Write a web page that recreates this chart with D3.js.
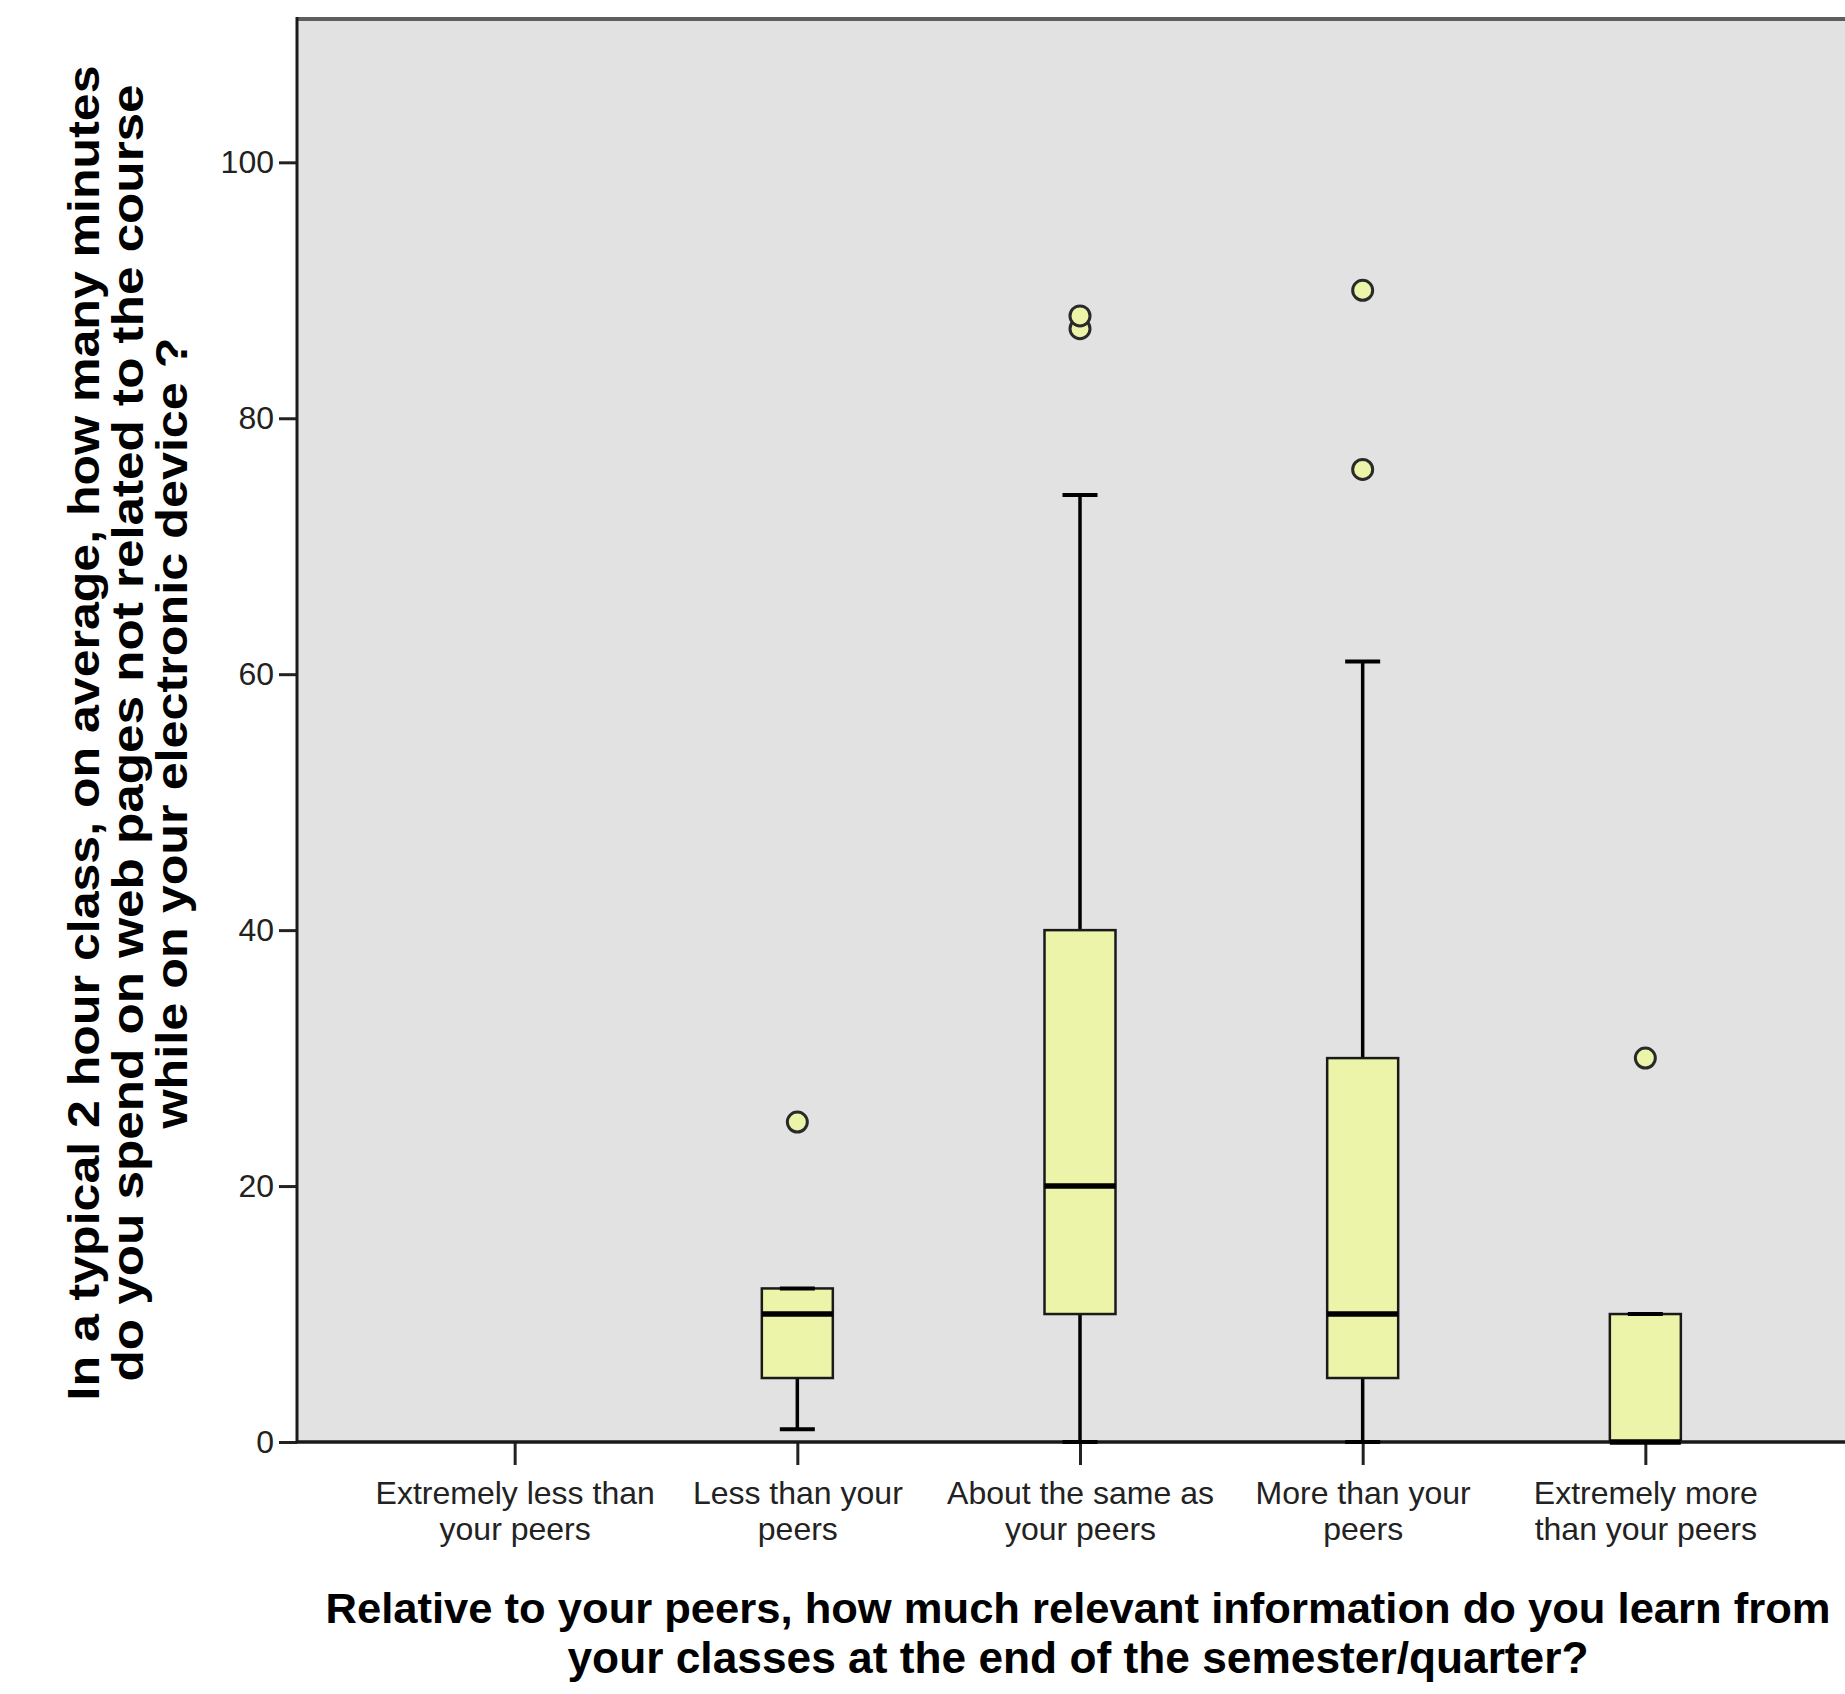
<!DOCTYPE html>
<html>
<head>
<meta charset="utf-8">
<script src="https://cdn.jsdelivr.net/npm/d3@7"></script>
<style>
  html, body { margin: 0; padding: 0; background: #ffffff; }
  svg { display: block; }
</style>
</head>
<body>
<div id="chart"></div>
<script>
// ---------------- DATA ----------------
const categories = [
  "Extremely less than your peers",
  "Less than your peers",
  "About the same as your peers",
  "More than your peers",
  "Extremely more than your peers"
];
const categoryLabelLines = [
  ["Extremely less than", "your peers"],
  ["Less than your", "peers"],
  ["About the same as", "your peers"],
  ["More than your", "peers"],
  ["Extremely more", "than your peers"]
];
const whiskerLow  = [null, 1, 0, 0, 0];
const q1          = [null, 5, 10, 5, 0];
const medians     = [null, 10, 20, 10, 0];
const q3          = [null, 12, 40, 30, 10];
const whiskerHigh = [null, 12, 74, 61, 10];
const outliers    = [[], [25], [87, 88], [76, 90], [30]];
const yTicks = [0, 20, 40, 60, 80, 100];
const yTitleLines = [
  "In a typical 2 hour class, on average, how many minutes",
  "do you spend on web pages not related to the course",
  "while on your electronic device ?"
];
const xTitleLines = [
  "Relative to your peers, how much relevant information do you learn from",
  "your classes at the end of the semester/quarter?"
];

// ---------------- LAYOUT ----------------
const W = 1845, H = 1694;
const plot = { left: 297, top: 19, right: 1863, bottom: 1442 };
const boxW = 71, capW = 35;
const boxFill = "#ebf4a8";

const svg = d3.select("#chart").append("svg")
  .attr("width", W).attr("height", H)
  .attr("viewBox", `0 0 ${W} ${H}`);

const y = d3.scaleLinear().domain([0, 111.2]).range([plot.bottom, plot.top]);
const x = d3.scalePoint().domain(categories).range([plot.left, plot.right]).padding(0.77);

// plot background
svg.append("rect")
  .attr("x", plot.left).attr("y", plot.top)
  .attr("width", plot.right - plot.left).attr("height", plot.bottom - plot.top)
  .attr("fill", "#e2e2e2");

// top border
svg.append("line")
  .attr("x1", plot.left).attr("x2", plot.right)
  .attr("y1", plot.top).attr("y2", plot.top)
  .attr("stroke", "#5e5e5e").attr("stroke-width", 4);

// Y axis
const yAxis = d3.axisLeft(y).tickValues(yTicks).tickSize(18).tickPadding(5).tickFormat(d3.format("d"));
const gy = svg.append("g").attr("transform", `translate(${plot.left},0)`).call(yAxis);
gy.select(".domain").remove();
gy.selectAll(".tick line").attr("stroke", "#222").attr("stroke-width", 3);
gy.selectAll(".tick text")
  .attr("font-family", "Liberation Sans, Arial, sans-serif")
  .attr("font-size", 32).attr("fill", "#222");

// X axis
const xAxis = d3.axisBottom(x).tickSize(23).tickFormat("");
const gx = svg.append("g").attr("transform", `translate(0,${plot.bottom})`).call(xAxis);
gx.select(".domain").remove();
gx.selectAll(".tick line").attr("stroke", "#222").attr("stroke-width", 3);
gx.selectAll(".tick").each(function(d, i) {
  const t = d3.select(this).append("text")
    .attr("text-anchor", "middle")
    .attr("font-family", "Liberation Sans, Arial, sans-serif")
    .attr("font-size", 32).attr("fill", "#222");
  categoryLabelLines[i].forEach((ln, k) => {
    t.append("tspan").attr("x", 0).attr("y", 62 + k * 36).text(ln);
  });
});

// axis lines
svg.append("line")
  .attr("x1", plot.left).attr("x2", plot.left)
  .attr("y1", plot.top - 2).attr("y2", plot.bottom + 1)
  .attr("stroke", "#1a1a1a").attr("stroke-width", 3);
svg.append("line")
  .attr("x1", plot.left - 1).attr("x2", plot.right)
  .attr("y1", plot.bottom).attr("y2", plot.bottom)
  .attr("stroke", "#1a1a1a").attr("stroke-width", 3.5);

// boxes
const boxes = svg.append("g");
categories.forEach((c, i) => {
  if (q1[i] === null) return;
  const cx = x(c);
  const g = boxes.append("g");
  // whiskers
  g.append("line").attr("x1", cx).attr("x2", cx)
    .attr("y1", y(whiskerLow[i])).attr("y2", y(q1[i]))
    .attr("stroke", "#000").attr("stroke-width", 3.5);
  g.append("line").attr("x1", cx).attr("x2", cx)
    .attr("y1", y(q3[i])).attr("y2", y(whiskerHigh[i]))
    .attr("stroke", "#000").attr("stroke-width", 3.5);
  // box
  g.append("rect")
    .attr("x", cx - boxW / 2).attr("y", y(q3[i]))
    .attr("width", boxW).attr("height", Math.max(0, y(q1[i]) - y(q3[i])))
    .attr("fill", boxFill).attr("stroke", "#1a1a1a").attr("stroke-width", 2.5);
  // caps
  [whiskerLow[i], whiskerHigh[i]].forEach(v => {
    g.append("line")
      .attr("x1", cx - capW / 2).attr("x2", cx + capW / 2)
      .attr("y1", y(v)).attr("y2", y(v))
      .attr("stroke", "#000").attr("stroke-width", 4);
  });
  // median
  g.append("line")
    .attr("x1", cx - boxW / 2).attr("x2", cx + boxW / 2)
    .attr("y1", y(medians[i])).attr("y2", y(medians[i]))
    .attr("stroke", "#000").attr("stroke-width", 5.5);
  // outliers
  outliers[i].forEach(v => {
    g.append("circle")
      .attr("cx", cx).attr("cy", y(v)).attr("r", 10)
      .attr("fill", boxFill).attr("stroke", "#2a2a2a").attr("stroke-width", 3);
  });
});

// Y title
const yTitleWidths = [1335, 1297, 791];
const yTitle = svg.append("g").attr("transform", `translate(0,733) rotate(-90)`);
yTitleLines.forEach((ln, k) => {
  yTitle.append("text")
    .attr("x", 0).attr("y", 99 + k * 44)
    .attr("text-anchor", "middle")
    .attr("font-family", "Liberation Sans, Arial, sans-serif")
    .attr("font-weight", "bold").attr("font-size", 45)
    .attr("textLength", yTitleWidths[k]).attr("lengthAdjust", "spacingAndGlyphs")
    .attr("fill", "#000")
    .text(ln);
});

// X title
const xTitleWidths = [1505, 1021];
const xTitleSizes = [43, 45];
xTitleLines.forEach((ln, k) => {
  svg.append("text")
    .attr("x", 1078).attr("y", 1623 + k * 50)
    .attr("text-anchor", "middle")
    .attr("font-family", "Liberation Sans, Arial, sans-serif")
    .attr("font-weight", "bold").attr("font-size", xTitleSizes[k])
    .attr("textLength", xTitleWidths[k]).attr("lengthAdjust", "spacingAndGlyphs")
    .attr("fill", "#000")
    .text(ln);
});
</script>
</body>
</html>
